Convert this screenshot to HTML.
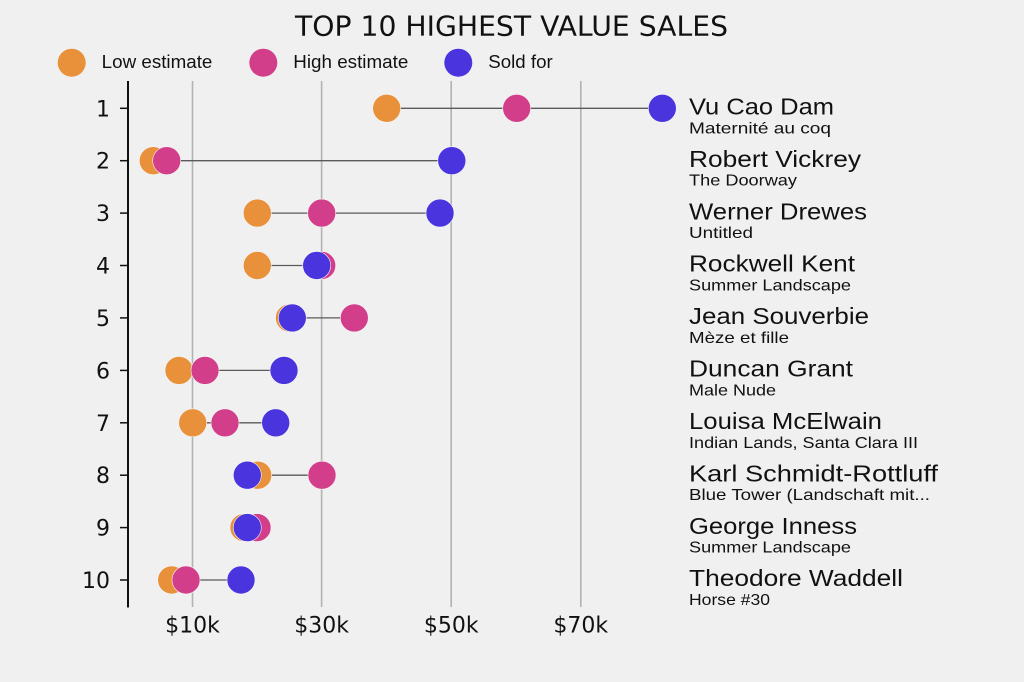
<!DOCTYPE html>
<html>
<head>
<meta charset="utf-8">
<style>
  html,body{margin:0;padding:0;background:#f0f0f0;}
  svg{display:block;}
  .dv{font-family:"DejaVu Sans","Liberation Sans",sans-serif;fill:#111;}
  .ls{font-family:"Liberation Sans","DejaVu Sans",sans-serif;fill:#111;}
</style>
</head>
<body>
<svg width="1024" height="682" viewBox="0 0 1024 682" xmlns="http://www.w3.org/2000/svg">
  <rect x="0" y="0" width="1024" height="682" fill="#f0f0f0"/>

  <!-- Title -->
  <text class="dv" x="511.5" y="35.7" font-size="28" text-anchor="middle" textLength="433" lengthAdjust="spacingAndGlyphs">TOP 10 HIGHEST VALUE SALES</text>

  <!-- Legend -->
  <circle cx="71.7" cy="62.7" r="14" fill="#e8903a"/>
  <text class="ls" x="101.7" y="67.9" font-size="18" textLength="110.7" lengthAdjust="spacingAndGlyphs">Low estimate</text>
  <circle cx="263.3" cy="62.7" r="14" fill="#d23e8a"/>
  <text class="ls" x="293.3" y="67.9" font-size="18" textLength="115" lengthAdjust="spacingAndGlyphs">High estimate</text>
  <circle cx="458.3" cy="62.7" r="14" fill="#4934de"/>
  <text class="ls" x="488.3" y="67.9" font-size="18" textLength="64.4" lengthAdjust="spacingAndGlyphs">Sold for</text>

  <!-- Gridlines -->
  <g stroke="#b2b2b2" stroke-width="1.6">
    <line x1="192.5" y1="81" x2="192.5" y2="607"/>
    <line x1="321.6" y1="81" x2="321.6" y2="607"/>
    <line x1="451.2" y1="81" x2="451.2" y2="607"/>
    <line x1="580.8" y1="81" x2="580.8" y2="607"/>
  </g>

  <!-- Y axis -->
  <line x1="128" y1="81" x2="128" y2="607.5" stroke="#111" stroke-width="2"/>
  <g stroke="#111" stroke-width="1.5">
    <line x1="120" y1="108.3" x2="128" y2="108.3"/>
    <line x1="120" y1="160.7" x2="128" y2="160.7"/>
    <line x1="120" y1="213.1" x2="128" y2="213.1"/>
    <line x1="120" y1="265.5" x2="128" y2="265.5"/>
    <line x1="120" y1="317.9" x2="128" y2="317.9"/>
    <line x1="120" y1="370.4" x2="128" y2="370.4"/>
    <line x1="120" y1="422.8" x2="128" y2="422.8"/>
    <line x1="120" y1="475.2" x2="128" y2="475.2"/>
    <line x1="120" y1="527.6" x2="128" y2="527.6"/>
    <line x1="120" y1="580" x2="128" y2="580"/>
  </g>
  <g class="dv" font-size="22" text-anchor="end">
    <text x="110" y="116.3">1</text>
    <text x="110" y="168.7">2</text>
    <text x="110" y="221.1">3</text>
    <text x="110" y="273.5">4</text>
    <text x="110" y="325.9">5</text>
    <text x="110" y="378.4">6</text>
    <text x="110" y="430.8">7</text>
    <text x="110" y="483.2">8</text>
    <text x="110" y="535.6">9</text>
    <text x="110" y="588">10</text>
  </g>

  <!-- X tick labels -->
  <g class="dv" font-size="22" text-anchor="middle">
    <text x="192.5" y="632.3">$10k</text>
    <text x="321.6" y="632.3">$30k</text>
    <text x="451.2" y="632.3">$50k</text>
    <text x="580.8" y="632.3">$70k</text>
  </g>

  <!-- Connecting lines -->
  <g stroke="#5a5a5a" stroke-width="1.3">
    <line x1="386.7" y1="108.3" x2="662.3" y2="108.3"/>
    <line x1="153.3" y1="160.7" x2="451.8" y2="160.7"/>
    <line x1="257.3" y1="213.1" x2="440" y2="213.1"/>
    <line x1="257.3" y1="265.5" x2="321.7" y2="265.5"/>
    <line x1="290" y1="317.9" x2="354.3" y2="317.9"/>
    <line x1="179" y1="370.4" x2="284" y2="370.4"/>
    <line x1="192.7" y1="422.8" x2="275.7" y2="422.8"/>
    <line x1="247.3" y1="475.2" x2="322" y2="475.2"/>
    <line x1="244" y1="527.6" x2="257" y2="527.6"/>
    <line x1="171.7" y1="580" x2="241" y2="580"/>
  </g>

  <!-- Low estimate -->
  <g fill="#e8903a" stroke="#f6f6f6" stroke-width="0.6">
    <circle cx="386.7" cy="108.3" r="14"/>
    <circle cx="153.3" cy="160.7" r="14"/>
    <circle cx="257.3" cy="213.1" r="14"/>
    <circle cx="257.3" cy="265.5" r="14"/>
    <circle cx="289.5" cy="317.9" r="14"/>
    <circle cx="179" cy="370.4" r="14"/>
    <circle cx="192.7" cy="422.8" r="14"/>
    <circle cx="257.7" cy="475.2" r="14"/>
    <circle cx="244" cy="527.6" r="14"/>
    <circle cx="171.7" cy="580" r="14"/>
  </g>
  <!-- High estimate -->
  <g fill="#d23e8a" stroke="#f6f6f6" stroke-width="0.6">
    <circle cx="516.7" cy="108.3" r="14"/>
    <circle cx="166.7" cy="160.7" r="14"/>
    <circle cx="321.7" cy="213.1" r="14"/>
    <circle cx="321.7" cy="265.5" r="14"/>
    <circle cx="354.3" cy="317.9" r="14"/>
    <circle cx="205" cy="370.4" r="14"/>
    <circle cx="225" cy="422.8" r="14"/>
    <circle cx="322" cy="475.2" r="14"/>
    <circle cx="257" cy="527.6" r="14"/>
    <circle cx="186" cy="580" r="14"/>
  </g>
  <!-- Sold for -->
  <g fill="#4934de" stroke="#f6f6f6" stroke-width="0.6">
    <circle cx="662.3" cy="108.3" r="14"/>
    <circle cx="451.8" cy="160.7" r="14"/>
    <circle cx="440" cy="213.1" r="14"/>
    <circle cx="316.7" cy="265.5" r="14"/>
    <circle cx="292.3" cy="317.9" r="14"/>
    <circle cx="284" cy="370.4" r="14"/>
    <circle cx="275.7" cy="422.8" r="14"/>
    <circle cx="247.3" cy="475.2" r="14"/>
    <circle cx="247.3" cy="527.6" r="14"/>
    <circle cx="241" cy="580" r="14"/>
  </g>

  <!-- Right labels -->
  <g class="ls">
    <text x="689" y="114.5" font-size="23" textLength="145" lengthAdjust="spacingAndGlyphs">Vu Cao Dam</text>
    <text x="689" y="133.3" font-size="16" textLength="142" lengthAdjust="spacingAndGlyphs">Maternité au coq</text>

    <text x="689" y="166.9" font-size="23" textLength="172" lengthAdjust="spacingAndGlyphs">Robert Vickrey</text>
    <text x="689" y="185.7" font-size="16" textLength="108" lengthAdjust="spacingAndGlyphs">The Doorway</text>

    <text x="689" y="219.3" font-size="23" textLength="178" lengthAdjust="spacingAndGlyphs">Werner Drewes</text>
    <text x="689" y="238.1" font-size="16" textLength="64" lengthAdjust="spacingAndGlyphs">Untitled</text>

    <text x="689" y="271.7" font-size="23" textLength="166" lengthAdjust="spacingAndGlyphs">Rockwell Kent</text>
    <text x="689" y="290.5" font-size="16" textLength="162" lengthAdjust="spacingAndGlyphs">Summer Landscape</text>

    <text x="689" y="324.1" font-size="23" textLength="180" lengthAdjust="spacingAndGlyphs">Jean Souverbie</text>
    <text x="689" y="342.9" font-size="16" textLength="100" lengthAdjust="spacingAndGlyphs">Mèze et fille</text>

    <text x="689" y="376.6" font-size="23" textLength="164" lengthAdjust="spacingAndGlyphs">Duncan Grant</text>
    <text x="689" y="395.4" font-size="16" textLength="87" lengthAdjust="spacingAndGlyphs">Male Nude</text>

    <text x="689" y="429" font-size="23" textLength="193" lengthAdjust="spacingAndGlyphs">Louisa McElwain</text>
    <text x="689" y="447.8" font-size="16" textLength="229" lengthAdjust="spacingAndGlyphs">Indian Lands, Santa Clara III</text>

    <text x="689" y="481.4" font-size="23" textLength="249" lengthAdjust="spacingAndGlyphs">Karl Schmidt-Rottluff</text>
    <text x="689" y="500.2" font-size="16" textLength="241" lengthAdjust="spacingAndGlyphs">Blue Tower (Landschaft mit...</text>

    <text x="689" y="533.8" font-size="23" textLength="168" lengthAdjust="spacingAndGlyphs">George Inness</text>
    <text x="689" y="552.6" font-size="16" textLength="162" lengthAdjust="spacingAndGlyphs">Summer Landscape</text>

    <text x="689" y="586.2" font-size="23" textLength="214" lengthAdjust="spacingAndGlyphs">Theodore Waddell</text>
    <text x="689" y="605" font-size="16" textLength="81" lengthAdjust="spacingAndGlyphs">Horse #30</text>
  </g>
</svg>
</body>
</html>
